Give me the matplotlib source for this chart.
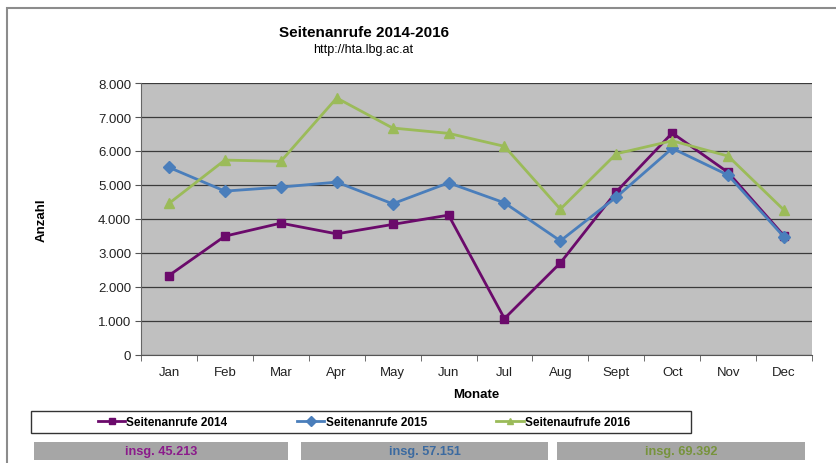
import matplotlib
matplotlib.use("Agg")
import matplotlib.pyplot as plt
from matplotlib.patches import Rectangle
from matplotlib.ticker import FuncFormatter, FixedLocator

plt.rcParams['font.family'] = ['Liberation Sans', 'DejaVu Sans']

# Daten (Seitenaufrufe je Monat)
monate = ['Jan', 'Feb', 'Mar', 'Apr', 'May', 'Jun', 'Jul', 'Aug', 'Sept', 'Oct', 'Nov', 'Dec']
werte_2014 = [2338, 3495, 3878, 3563, 3840, 4114, 1072, 2709, 4800, 6530, 5370, 3504]
werte_2015 = [5518, 4820, 4938, 5085, 4447, 5065, 4476, 3357, 4644, 6080, 5290, 3470]
werte_2016 = [4458, 5733, 5695, 7559, 6676, 6519, 6137, 4290, 5919, 6300, 5850, 4261]
serien = ['Seitenanrufe 2014', 'Seitenanrufe 2015', 'Seitenaufrufe 2016']
summen = [45213, 57151, 69392]

farben = ['#6b0a6b', '#4a7ebb', '#9bbb59']
textfarben = ['#8b1a8b', '#3b6aa0', '#77933c']
marker = ['s', 'D', '^']
msize = [6, 6, 7.5]

W, H = 836, 464
fig = plt.figure(figsize=(W / 100, H / 100), dpi=100)

# Rahmen aussen
fig.patches.append(Rectangle((7 / W, -0.2), 1.2, (H - 9) / H + 0.2, transform=fig.transFigure,
                             fill=False, edgecolor='#8c8c8c', linewidth=1.5))

ax = fig.add_axes([141 / W, (H - 356) / H, (812 - 141) / W, (356 - 84) / H])
ax.set_facecolor('#c0c0c0')

x = list(range(len(monate)))
for i, daten in enumerate([werte_2014, werte_2015, werte_2016]):
    ax.plot(x, daten, color=farben[i], marker=marker[i], markersize=msize[i],
            linewidth=2, label=serien[i], zorder=3)

ax.set_xlim(-0.5, 11.5)
ax.set_ylim(0, 8000)
ax.set_yticks(range(0, 8001, 1000))
ax.yaxis.set_major_formatter(FuncFormatter(lambda v, p: '0' if v == 0 else '{:,.0f}'.format(v).replace(',', '.')))
ax.grid(axis='y', color='#3a3a3a', linewidth=0.9, zorder=1)
ax.set_axisbelow(True)

ax.set_xticks(x)
ax.set_xticklabels(monate)
ax.xaxis.set_minor_locator(FixedLocator([v - 0.5 for v in range(13)]))
ax.tick_params(axis='x', which='major', length=0, pad=8, labelsize=9.5, colors='#222222')
ax.tick_params(axis='x', which='minor', length=4, color='#555555', direction='out')
ax.tick_params(axis='y', length=4, pad=3, labelsize=9.5, labelcolor='#222222', color='#555555')

for s in ['top', 'right']:
    ax.spines[s].set_visible(False)
ax.spines['left'].set_color('#666666')
ax.spines['bottom'].set_color('#555555')

ax.set_xlabel('Monate', fontsize=9.5, fontweight='bold')
ax.xaxis.set_label_coords(0.5, (356 - 395) / 272)
ax.xaxis.label.set_va('center')
ax.set_ylabel('Anzahl', fontsize=9.5, fontweight='bold')
ax.yaxis.set_label_coords((42 - 141) / 671, 0.5)
ax.yaxis.label.set_va('center')

fig.text(364 / W, 1 - 33 / H, 'Seitenanrufe 2014-2016', ha='center', va='center',
         fontsize=11, fontweight='bold')
fig.text(363 / W, 1 - 50 / H, 'http://hta.lbg.ac.at', ha='center', va='center', fontsize=9)

# Legende
fig.patches.append(Rectangle((31 / W, (H - 434) / H), 660 / W, 22 / H, transform=fig.transFigure,
                             fill=True, facecolor='white', edgecolor='#333333', linewidth=1))
handles, labels = ax.get_legend_handles_labels()
leg = fig.legend(handles, labels, loc='center', bbox_to_anchor=(364 / W, 1 - 423 / H),
                 ncol=3, frameon=False, fontsize=8.5, handlelength=2.3, handletextpad=0.1,
                 columnspacing=5.9, borderaxespad=0)
for t in leg.get_texts():
    t.set_fontweight('bold')
for h in leg.legend_handles:
    h.set_markersize(5)

# Summenfelder
kasten = [(34, 288), (301, 548), (557, 805)]
for (x0, x1), summe, tf in zip(kasten, summen, textfarben):
    fig.patches.append(Rectangle((x0 / W, (H - 461) / H), (x1 - x0) / W, 18 / H,
                                 transform=fig.transFigure, facecolor='#a6a6a6', edgecolor='none'))
    fig.text((x0 + x1) / 2 / W, 1 - 452 / H, 'insg. ' + '{:,}'.format(summe).replace(',', '.'),
             ha='center', va='center', fontsize=9.2, fontweight='bold', color=tf)

fig.savefig('out.png', dpi=100)
